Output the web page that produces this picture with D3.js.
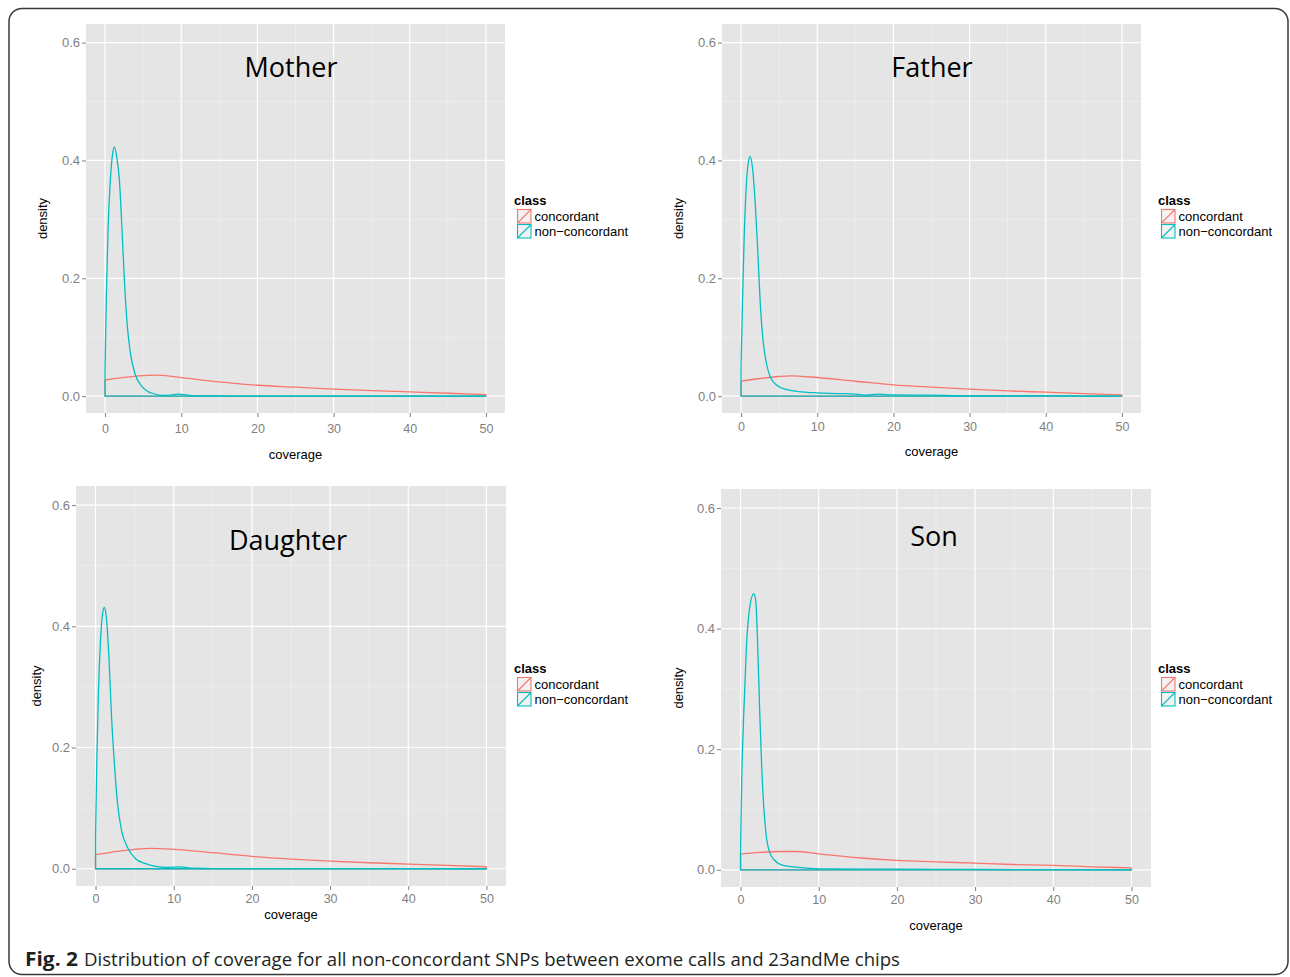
<!DOCTYPE html>
<html>
<head>
<meta charset="utf-8">
<script src="https://cdn.jsdelivr.net/npm/d3@7"></script>
<style>
  body { margin: 0; background: #fff; }
  svg { display: block; }
</style>
</head>
<body>
<div id="chart"></div>
<script>
// Tick values and class names
var xTicks = [0, 10, 20, 30, 40, 50];
var xMinor = [5, 15, 25, 35, 45];
var yTicks = [0, 0.2, 0.4, 0.6];
var yMinor = [0.1, 0.3, 0.5];
var classNames = ["concordant", "non\u2212concordant"];
var classColors = ["#F8766D", "#00BFC4"];

// Density curves: [coverage, density]
var motherConcordant = [[0, 0.0277], [2.5, 0.032], [5, 0.035], [6.5, 0.0356], [10, 0.0316], [15, 0.0243], [20, 0.0186], [25, 0.0153], [30, 0.0119], [35, 0.0096], [40, 0.0073], [45, 0.005], [50, 0.0028]];
var motherNonConcordant = [[0, 0.045], [0.17, 0.169], [0.39, 0.282], [0.7, 0.367], [1.0, 0.412], [1.22, 0.423], [1.53, 0.406], [1.88, 0.367], [2.23, 0.282], [2.54, 0.197], [2.89, 0.124], [3.33, 0.073], [3.99, 0.036], [4.86, 0.0164], [6.18, 0.005], [7.93, 0.0012], [9.6, 0.0034], [11.5, 0.001], [14, 0.0004], [20, 0.0002], [30, 0.0001], [50, 0]];

var fatherConcordant = [[0, 0.0254], [2.5, 0.030], [5, 0.0334], [6.5, 0.0345], [10, 0.0317], [15, 0.0254], [20, 0.0192], [25, 0.0153], [30, 0.0119], [35, 0.009], [40, 0.0068], [45, 0.0045], [50, 0.0023]];
var fatherNonConcordant = [[0, 0.05], [0.18, 0.152], [0.4, 0.265], [0.66, 0.35], [0.97, 0.398], [1.19, 0.407], [1.49, 0.389], [1.84, 0.332], [2.19, 0.248], [2.5, 0.163], [2.85, 0.10], [3.25, 0.061], [3.82, 0.033], [4.69, 0.0187], [6.0, 0.0113], [8.0, 0.0074], [10, 0.0057], [13, 0.0045], [15, 0.0034], [16.5, 0.0017], [18, 0.0034], [20, 0.0023], [25, 0.0017], [30, 0.0006], [35, 0.0011], [40, 0.0006], [45, 0.0003], [50, 0]];

var daughterConcordant = [[0, 0.0231], [3, 0.029], [5, 0.032], [7, 0.0336], [10, 0.032], [15, 0.0264], [20, 0.0204], [25, 0.016], [30, 0.0127], [35, 0.0099], [40, 0.0077], [45, 0.0055], [50, 0.0033]];
var daughterNonConcordant = [[0, 0.052], [0.17, 0.184], [0.38, 0.295], [0.64, 0.377], [0.9, 0.421], [1.11, 0.431], [1.37, 0.416], [1.71, 0.35], [2.05, 0.25], [2.44, 0.168], [2.82, 0.107], [3.33, 0.063], [4.06, 0.036], [5.12, 0.0165], [6.4, 0.0083], [7.69, 0.0039], [9, 0.002], [10.8, 0.003], [12.5, 0.0008], [15, 0.0002], [25, 0.0001], [50, 0]];

var sonConcordant = [[0, 0.026], [2.5, 0.0288], [5, 0.0304], [7, 0.0304], [10, 0.0266], [15, 0.02], [20, 0.0155], [25, 0.0133], [30, 0.011], [35, 0.0088], [40, 0.0072], [45, 0.005], [50, 0.0033]];
var sonNonConcordant = [[0, 0.035], [0.15, 0.148], [0.41, 0.259], [0.75, 0.369], [1.18, 0.436], [1.69, 0.458], [1.94, 0.447], [2.2, 0.369], [2.46, 0.259], [2.71, 0.17], [2.97, 0.104], [3.31, 0.054], [3.73, 0.029], [4.38, 0.0155], [5.44, 0.0072], [7.15, 0.0044], [10, 0.0017], [20, 0.001], [30, 0.0006], [40, 0.0003], [50, 0]];

var panelTitles = ["Mother", "Father", "Daughter", "Son"];
var panelSeries = [
    [motherConcordant, motherNonConcordant],
    [fatherConcordant, fatherNonConcordant],
    [daughterConcordant, daughterNonConcordant],
    [sonConcordant, sonNonConcordant]
];

// where each ggplot panel sits on the page
var layout = [
    {left: 86, top: 24, width: 419, height: 389, titleX: 291, titleY: 77, legendX: 514, legendY: 205, yTitleX: 42, xTickY: 433, xTitleY: 459},
    {left: 722, top: 24, width: 419, height: 389, titleX: 932, titleY: 77, legendX: 1158, legendY: 205, yTitleX: 678, xTickY: 431, xTitleY: 456},
    {left: 76, top: 486, width: 430, height: 400, titleX: 288, titleY: 550, legendX: 514, legendY: 673, yTitleX: 36, xTickY: 903, xTitleY: 919},
    {left: 721, top: 489, width: 430, height: 398, titleX: 934, titleY: 546, legendX: 1158, legendY: 673, yTitleX: 678, xTickY: 904, xTitleY: 930}
];

var svgWidth = 1290;
var svgHeight = 977;
var axisFont = "'Liberation Sans', Arial, sans-serif";

var svg = d3.select("#chart")
    .append("svg")
    .attr("width", svgWidth)
    .attr("height", svgHeight);

// figure frame
svg.append("rect")
    .attr("x", 9)
    .attr("y", 8.5)
    .attr("width", 1279)
    .attr("height", 966)
    .attr("rx", 13)
    .attr("fill", "none")
    .attr("stroke", "#3a3a3a")
    .attr("stroke-width", 1.5);

panelTitles.forEach(function (title, i) {
    var L = layout[i];

    var xScale = d3.scaleLinear()
        .domain([-2.5, 52.5])
        .range([L.left, L.left + L.width]);

    var yScale = d3.scaleLinear()
        .domain([-0.0285, 0.6315])
        .range([L.top + L.height, L.top]);

    var g = svg.append("g");

    // panel background
    g.append("rect")
        .attr("x", L.left)
        .attr("y", L.top)
        .attr("width", L.width)
        .attr("height", L.height)
        .attr("fill", "#E5E5E5");

    // minor grid
    g.selectAll(".minorX").data(xMinor).enter().append("line")
        .attr("x1", d => xScale(d)).attr("x2", d => xScale(d))
        .attr("y1", L.top).attr("y2", L.top + L.height)
        .attr("stroke", "#F2F2F2").attr("stroke-width", 0.6);
    g.selectAll(".minorY").data(yMinor).enter().append("line")
        .attr("y1", d => yScale(d)).attr("y2", d => yScale(d))
        .attr("x1", L.left).attr("x2", L.left + L.width)
        .attr("stroke", "#F2F2F2").attr("stroke-width", 0.6);

    // major grid
    g.selectAll(".majorX").data(xTicks).enter().append("line")
        .attr("x1", d => xScale(d)).attr("x2", d => xScale(d))
        .attr("y1", L.top).attr("y2", L.top + L.height)
        .attr("stroke", "#FFFFFF").attr("stroke-width", 1.2);
    g.selectAll(".majorY").data(yTicks).enter().append("line")
        .attr("y1", d => yScale(d)).attr("y2", d => yScale(d))
        .attr("x1", L.left).attr("x2", L.left + L.width)
        .attr("stroke", "#FFFFFF").attr("stroke-width", 1.2);

    // axes
    var xAxis = d3.axisBottom(xScale)
        .tickValues(xTicks)
        .tickSize(4)
        .tickPadding(3)
        .tickFormat(d3.format("d"));
    var xg = g.append("g")
        .attr("transform", `translate(0, ${L.top + L.height})`)
        .call(xAxis);
    xg.select(".domain").remove();
    xg.selectAll("line").attr("stroke", "#7F7F7F");
    xg.selectAll("text")
        .attr("y", L.xTickY - L.top - L.height)
        .attr("dy", 0)
        .attr("fill", "#7F7F7F")
        .style("font-family", axisFont)
        .style("font-size", "12.5px");

    var yAxis = d3.axisLeft(yScale)
        .tickValues(yTicks)
        .tickSize(4)
        .tickPadding(2)
        .tickFormat(d3.format(".1f"));
    var yg = g.append("g")
        .attr("transform", `translate(${L.left}, 0)`)
        .call(yAxis);
    yg.select(".domain").remove();
    yg.selectAll("line").attr("stroke", "#7F7F7F");
    yg.selectAll("text")
        .attr("fill", "#7F7F7F")
        .style("font-family", axisFont)
        .style("font-size", "13px");

    // axis titles
    g.append("text")
        .attr("x", xScale(25))
        .attr("y", L.xTitleY)
        .attr("text-anchor", "middle")
        .style("font-family", axisFont)
        .style("font-size", "13px")
        .text("coverage");

    g.append("text")
        .attr("transform", `translate(${L.yTitleX + 4.5}, ${L.top + L.height / 2}) rotate(-90)`)
        .attr("text-anchor", "middle")
        .style("font-family", axisFont)
        .style("font-size", "13px")
        .text("density");

    // density outlines (ggplot draws each as a closed polygon)
    var curve = d3.line()
        .x(d => xScale(d[0]))
        .y(d => yScale(d[1]))
        .curve(d3.curveMonotoneX);
    var edge = d3.line()
        .x(d => xScale(d[0]))
        .y(d => yScale(d[1]));

    panelSeries[i].forEach(function (series, k) {
        var first = series[0];
        var last = series[series.length - 1];
        g.append("path")
            .attr("d", edge([[first[0], first[1]], [first[0], 0], [last[0], 0], [last[0], last[1]]]))
            .attr("fill", "none")
            .attr("stroke", classColors[k])
            .attr("stroke-width", 1.3);
        g.append("path")
            .attr("d", curve(series))
            .attr("fill", "none")
            .attr("stroke", classColors[k])
            .attr("stroke-width", 1.3);
    });

    // panel label
    g.append("text")
        .attr("x", L.titleX)
        .attr("y", L.titleY)
        .attr("text-anchor", "middle")
        .style("font-family", "'Open Sans', sans-serif")
        .style("font-size", "27px")
        .text(title);

    // legend
    var legend = g.append("g")
        .attr("transform", `translate(${L.legendX}, ${L.legendY})`);
    legend.append("text")
        .attr("x", 0)
        .attr("y", 0)
        .style("font-family", axisFont)
        .style("font-size", "13px")
        .style("font-weight", "bold")
        .text("class");

    classNames.forEach(function (name, k) {
        var ky = 4.5 + k * 15;
        legend.append("rect")
            .attr("x", 3.5)
            .attr("y", ky)
            .attr("width", 13.5)
            .attr("height", 13.5)
            .attr("fill", "#F2F2F2")
            .attr("stroke", classColors[k])
            .attr("stroke-width", 1.1);
        legend.append("line")
            .attr("x1", 3.5).attr("y1", ky + 13.5)
            .attr("x2", 17).attr("y2", ky)
            .attr("stroke", classColors[k])
            .attr("stroke-width", 1.1);
        legend.append("text")
            .attr("x", 20.5)
            .attr("y", ky + 11.5)
            .style("font-family", axisFont)
            .style("font-size", "13px")
            .text(name);
    });
});

// figure caption
svg.append("text")
    .attr("x", 25)
    .attr("y", 966)
    .attr("textLength", 53)
    .attr("lengthAdjust", "spacingAndGlyphs")
    .attr("fill", "#231F20")
    .style("font-family", "'Open Sans', sans-serif")
    .style("font-size", "19px")
    .style("font-weight", "bold")
    .text("Fig. 2");

svg.append("text")
    .attr("x", 84)
    .attr("y", 966)
    .attr("textLength", 816)
    .attr("lengthAdjust", "spacingAndGlyphs")
    .attr("fill", "#231F20")
    .style("font-family", "'Open Sans', sans-serif")
    .style("font-size", "19px")
    .text("Distribution of coverage for all non-concordant SNPs between exome calls and 23andMe chips");
</script>
</body>
</html>
